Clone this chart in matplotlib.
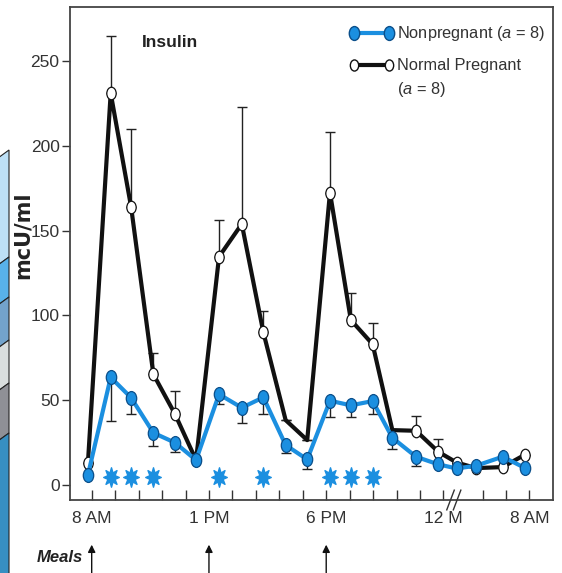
import numpy as np
import matplotlib.pyplot as plt
from matplotlib.path import Path
from matplotlib.transforms import Affine2D
from matplotlib.patches import Polygon

plt.rcParams['font.family'] = ['Liberation Sans', 'DejaVu Sans']
plt.rcParams['mathtext.fontset'] = 'custom'
plt.rcParams['mathtext.rm'] = 'Liberation Sans'
plt.rcParams['mathtext.it'] = 'Liberation Sans:italic'

# sample times, in tick units after 8 AM (night part is compressed after the break)
t = [-0.16, 0.81, 1.68, 2.63, 3.55, 4.45, 5.43, 6.40, 7.32, 8.27, 9.19,
     10.16, 11.05, 11.98, 12.82, 13.83, 14.78, 15.56, 16.39, 17.52, 18.46]

# nonpregnant insulin (mcU/ml) and lower error
non = [6, 63.5, 51.5, 30.8, 25, 14.7, 53.5, 45.6, 51.7, 23.6, 15.1,
       49.7, 47, 49.5, 27.9, 16.7, 12.2, 9.8, 11.4, 16.7, 10.2]
non_err = [0, 25.6, 9.6, 7.8, 5.4, 0, 5.9, 9.2, 9.8, 4.9, 5.9,
           9.4, 7, 7.6, 6.7, 5.5, 0, 0, 0, 0, 0]

# normal pregnant insulin and upper error
preg = [13.2, 231, 164, 65.3, 41.9, 14.7, 134.6, 153.9, 90, 38.3, 26.5,
        172.4, 97.3, 83, 32.4, 32, 19.6, 13.3, 10, 10.6, 17.8]
preg_err = [0, 34, 45.7, 12.3, 13.7, 0, 21.4, 68.8, 12.8, 0, 0,
            36, 16.1, 12.7, 0, 8.9, 7.3, 0, 0, 0, 0]
preg_marked = [0, 1, 2, 3, 4, 5, 6, 7, 8, 11, 12, 13, 15, 16, 17, 18, 19, 20]

# samples with significant difference
sig_idx = [1, 2, 3, 6, 8, 11, 12, 13]

major_pos = [0, 5, 10, 15, 18.66]
major_lab = ['8 AM', '1 PM', '6 PM', '12 M', '8 AM']
minor_pos = [1, 2, 3, 4, 6, 7, 8, 9, 11, 12, 13, 14, 16.68, 17.68]
meal_pos = [0, 5, 10]

blue = '#1b8fe0'
ell = Path.unit_circle().transformed(Affine2D().scale(0.75, 1))
star = Path.unit_regular_star(8, 0.5).transformed(Affine2D().scale(0.8, 1))

fig = plt.figure(figsize=(5.62, 5.73), dpi=100)
ax = fig.add_axes([70 / 562, 1 - 500 / 573, 483 / 562, 493 / 573])

# decorative strip on the left edge
bands = [(150, 257, '#bde0f6'), (257, 297, '#58b2ea'), (297, 340, '#73a3cc'),
         (340, 383, '#d9dddd'), (383, 433, '#8f9096'), (433, 580, '#378fc2')]
for y0, y1, c in bands:
    pts = [(-2, y0 + 8), (9, y0), (9, y1), (-2, y1 + 8)]
    fig.patches.append(Polygon([(x / 562, 1 - y / 573) for x, y in pts], closed=True,
                               transform=fig.transFigure, facecolor=c,
                               edgecolor='#222222', linewidth=0.8))

ax.errorbar(t, preg, yerr=[np.zeros(len(preg_err)), preg_err], fmt='none',
            ecolor='#222222', elinewidth=1, capsize=3.5, capthick=1, zorder=2)
ax.errorbar(t, non, yerr=[non_err, np.zeros(len(non_err))], fmt='none',
            ecolor='#222222', elinewidth=1, capsize=3.5, capthick=1, zorder=2)

ax.plot(t, preg, color='#111111', lw=3, zorder=3, marker=ell, markevery=preg_marked,
        markersize=9, markerfacecolor='white', markeredgecolor='#111111',
        markeredgewidth=0.9)
ax.plot(t, non, color=blue, lw=3, zorder=4, marker=ell, markersize=10,
        markerfacecolor=blue, markeredgecolor='#0b4f8a', markeredgewidth=0.9)

ax.plot([t[i] for i in sig_idx], [4.5] * len(sig_idx), linestyle='none',
        marker=star, markersize=14, color=blue, zorder=4)

ax.set_xlim(-0.925, 19.67)
ax.set_ylim(-8.8, 281.8)
ax.set_yticks([0, 50, 100, 150, 200, 250])
ax.set_xticks(major_pos)
ax.set_xticklabels(major_lab)
ax.set_xticks(minor_pos, minor=True)
ax.tick_params(axis='y', direction='out', length=6, width=1, pad=1.5,
               labelsize=12.5, colors='#333333')
ax.tick_params(axis='x', which='both', direction='in', length=7, width=1,
               pad=8, labelsize=12.5, colors='#333333')
for s in ax.spines.values():
    s.set_color('#444444')
    s.set_linewidth(1.3)

# axis break marks
xt = ax.get_xaxis_transform()
for dx in [0, 0.28]:
    ax.plot([15.14 + dx, 15.46 + dx], [-0.02, 0.02], color='#333333', lw=1,
            transform=xt, clip_on=False, zorder=5)

ax.text(0.149, 0.929, 'Insulin', transform=ax.transAxes, fontsize=12.5,
        fontweight='bold', va='center', ha='left', color='#222222')

# legend drawn by hand
ax.plot([0.588, 0.66], [0.947, 0.947], transform=ax.transAxes, color=blue, lw=3,
        marker=ell, markersize=10, markerfacecolor=blue, markeredgecolor='#0b4f8a',
        clip_on=False)
ax.plot([0.588, 0.66], [0.882, 0.882], transform=ax.transAxes, color='#111111', lw=3,
        marker=ell, markersize=8, markerfacecolor='white', markeredgecolor='#111111',
        clip_on=False)
ax.text(0.677, 0.947, 'Nonpregnant ($a$ = 8)', transform=ax.transAxes, fontsize=11.8,
        va='center', color='#333333')
ax.text(0.677, 0.882, 'Normal Pregnant', transform=ax.transAxes, fontsize=11.8,
        va='center', color='#333333')
ax.text(0.677, 0.832, '($a$ = 8)', transform=ax.transAxes, fontsize=11.8,
        va='center', color='#333333')

fig.text(23 / 562, 1 - 235 / 573, 'mcU/ml', rotation=90, fontsize=15,
         fontweight='bold', family='DejaVu Sans', ha='center', va='center',
         color='#222222')

fig.text(37 / 562, 1 - 557 / 573, 'Meals', fontsize=12, fontweight='bold',
         style='italic', ha='left', va='center', color='#222222')
for m in meal_pos:
    ax.annotate('', xy=(m, -0.085), xytext=(m, -0.16), xycoords=xt, textcoords=xt,
                arrowprops=dict(arrowstyle='-|>', color='#111111', lw=1,
                                mutation_scale=11), annotation_clip=False)

fig.savefig('out.png', dpi=100)
